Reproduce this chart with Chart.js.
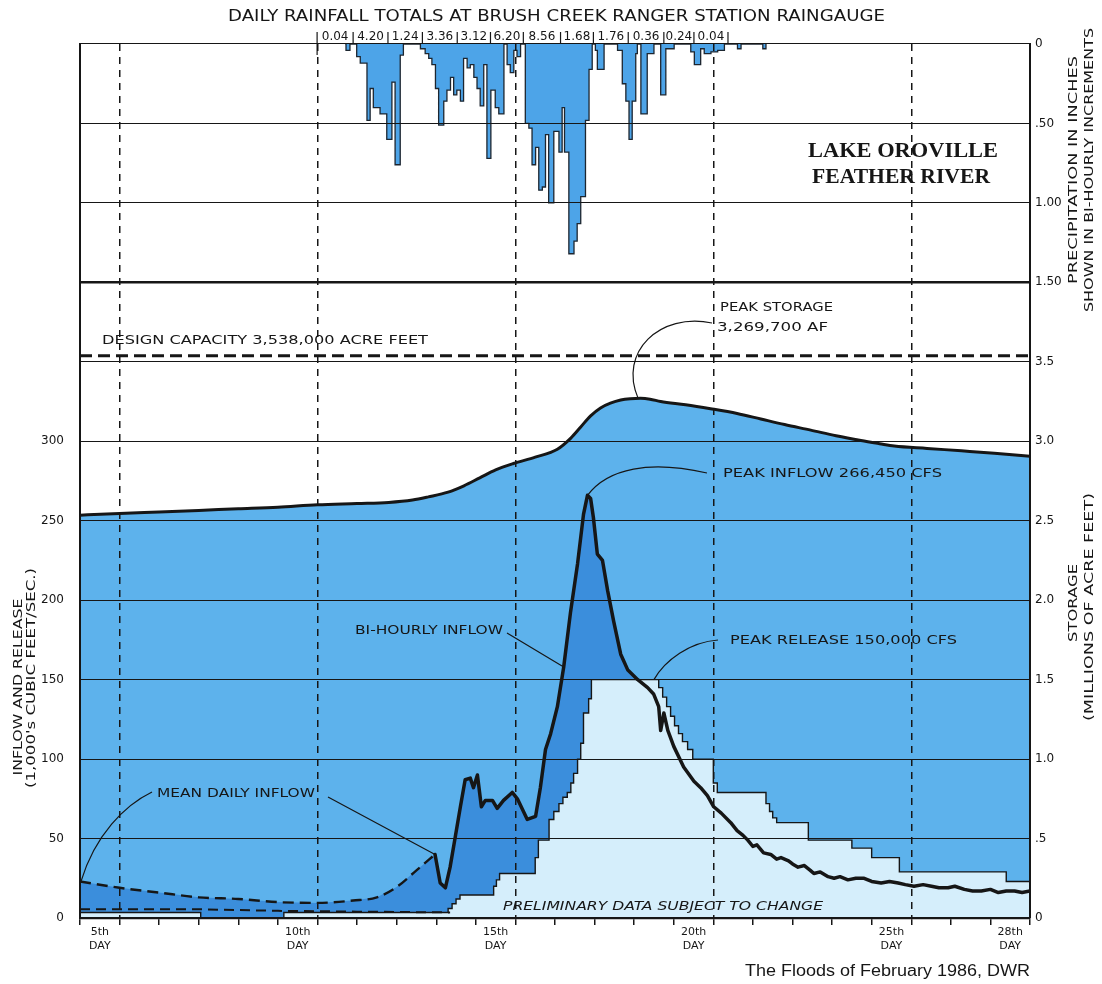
<!DOCTYPE html>
<html>
<head>
<meta charset="utf-8">
<title>Lake Oroville - Feather River, February 1986</title>
<script src="https://cdn.jsdelivr.net/npm/chart.js@4.4.1/dist/chart.umd.min.js"></script>
<style>
  html, body { margin: 0; padding: 0; background: #fff; }
  canvas { display: block; }
</style>
</head>
<body>
<canvas id="chart" width="1102" height="984"></canvas>
<script>
// ---- axis labels ----
const xLabelDays = [4.5, 9.5, 14.5, 19.5, 24.5, 27.5];
const xLabels = ['5th', '10th', '15th', '20th', '25th', '28th'];
const dashedDays = [5, 10, 15, 20, 25];
const storageTickLabels = ['0', '.5', '1.0', '1.5', '2.0', '2.5', '3.0', '3.5'];
const precipTickLabels = ['0', '.50', '1.00', '1.50'];

// daily rainfall totals (inches) and the day marks between them
const rainTotals = ['0.04', '4.20', '1.24', '3.36', '3.12', '6.20', '8.56', '1.68', '1.76', '0.36', '0.24', '0.04'];
const rainSepDays = [9.99, 10.90, 11.78, 12.65, 13.53, 14.37, 15.20, 16.14, 16.97, 17.85, 18.75, 19.51, 20.37];

const designCapacity = 3.538; // millions of acre feet

// storage, millions of acre feet [day, value]
const storage = [
  [4, 2.535], [5, 2.545], [6, 2.555], [7, 2.565], [8, 2.575], [9, 2.585], [10, 2.60],
  [11, 2.608], [11.8, 2.615], [12.4, 2.63], [12.8, 2.65], [13.3, 2.68], [13.7, 2.72],
  [14.1, 2.77], [14.5, 2.82], [14.95, 2.86], [15.5, 2.90], [16.06, 2.95], [16.4, 3.02],
  [16.65, 3.09], [16.9, 3.16], [17.15, 3.21], [17.4, 3.24], [17.66, 3.26], [17.9, 3.268],
  [18.16, 3.27], [18.4, 3.265], [18.67, 3.25], [19.3, 3.23], [19.93, 3.205], [20.6, 3.175],
  [21.2, 3.14], [21.8, 3.105], [22.46, 3.07], [23.1, 3.035], [23.73, 3.005], [24.2, 2.985],
  [24.57, 2.97], [25.4, 2.955], [26.27, 2.94], [27.1, 2.925], [28, 2.905]
];

// mean daily inflow, 1,000's cfs
const meanInflow = [
  [4, 23], [5, 19], [6, 16], [7, 13], [8, 12], [9, 10], [10, 9.5], [10.9, 11],
  [11.5, 13], [12.0, 19.5], [12.5, 30], [12.97, 40]
];

// bi-hourly inflow, 1,000's cfs
const biInflow = [
  [12.97, 40], [13.10, 22], [13.23, 19], [13.35, 32], [13.48, 51], [13.61, 70], [13.73, 87],
  [13.86, 88], [13.94, 82], [14.04, 90], [14.14, 70], [14.24, 74], [14.42, 74], [14.54, 69],
  [14.70, 74], [14.92, 79], [15.05, 75], [15.30, 62], [15.51, 64], [15.63, 82], [15.76, 106],
  [15.89, 116], [16.06, 133], [16.22, 158], [16.39, 192], [16.57, 223], [16.72, 254],
  [16.82, 266], [16.90, 264], [16.97, 252], [17.07, 229], [17.20, 225], [17.33, 206],
  [17.48, 187], [17.66, 166], [17.84, 156], [18.09, 150], [18.34, 145], [18.49, 141],
  [18.62, 133], [18.67, 118], [18.75, 129], [18.85, 118], [19.00, 108], [19.25, 95],
  [19.51, 86], [19.68, 82], [19.85, 77], [20.01, 70], [20.2, 66], [20.44, 60], [20.6, 55],
  [20.75, 52], [20.87, 49], [21.0, 45], [21.1, 46], [21.27, 41], [21.45, 40], [21.6, 37],
  [21.71, 38], [21.9, 36], [22.0, 34], [22.14, 32], [22.3, 33], [22.45, 30], [22.54, 28],
  [22.7, 29], [22.9, 26], [23.05, 25], [23.2, 26], [23.4, 24], [23.6, 25], [23.81, 25],
  [24.0, 23], [24.24, 22], [24.45, 23], [24.67, 22], [24.85, 21], [25.07, 20], [25.3, 21],
  [25.51, 20], [25.7, 19], [25.93, 19], [26.1, 20], [26.34, 18], [26.55, 17], [26.77, 17],
  [27.0, 18], [27.2, 16], [27.4, 17], [27.61, 17], [27.8, 16], [28.0, 17]
];

// release, 1,000's cfs (each value holds until the next day mark)
const release = [
  [4, 3.5], [7.05, 0], [9.15, 3.5], [13.3, 6], [13.4, 9], [13.5, 12], [13.6, 14.5],
  [14.45, 20], [14.52, 24], [14.6, 28], [15.5, 38], [15.58, 49], [15.85, 62], [15.97, 67],
  [16.1, 72], [16.2, 76], [16.31, 79], [16.4, 85], [16.47, 91], [16.57, 100], [16.65, 110],
  [16.72, 129], [16.85, 138], [16.92, 150], [18.62, 145], [18.72, 139], [18.82, 133],
  [18.92, 127], [19.02, 121], [19.12, 116], [19.22, 111], [19.35, 106], [19.48, 100],
  [20.0, 85], [20.1, 79], [21.33, 72], [21.42, 67], [21.5, 63], [21.6, 60], [22.4, 49],
  [23.5, 44], [24.0, 38], [24.7, 29], [27.4, 23], [28, 23]
];

// lower dashed line, 1,000's cfs
const lowDash = [[4, 5.5], [7, 5.5], [9, 4.5], [11, 4], [13.35, 3.5]];

// bi-hourly precipitation, inches (each value holds until the next day mark)
const precip = [
  [10.70, 0], [10.72, 0.04], [10.82, 0], [10.99, 0.08], [11.08, 0.12], [11.25, 0.48],
  [11.33, 0.28], [11.41, 0.40], [11.58, 0.44], [11.75, 0.60], [11.88, 0.24], [11.96, 0.76],
  [12.09, 0.07], [12.17, 0], [12.60, 0.03], [12.72, 0.06], [12.81, 0.09], [12.89, 0.13],
  [12.98, 0.28], [13.06, 0.51], [13.19, 0.36], [13.27, 0.29], [13.36, 0.21], [13.44, 0.32],
  [13.52, 0.29], [13.61, 0.36], [13.69, 0.09], [13.78, 0.15], [13.86, 0.13], [13.95, 0.21],
  [14.03, 0.28], [14.11, 0.39], [14.20, 0.13], [14.28, 0.72], [14.38, 0.29], [14.49, 0.40],
  [14.58, 0.44], [14.71, 0], [14.79, 0.13], [14.87, 0.18], [14.96, 0.04], [15.04, 0.08],
  [15.13, 0], [15.25, 0.50], [15.34, 0.53], [15.42, 0.76], [15.51, 0.65], [15.59, 0.92],
  [15.68, 0.90], [15.76, 0.57], [15.84, 1.00], [15.97, 0.55], [16.10, 0.68], [16.18, 0.40],
  [16.24, 0.68], [16.35, 1.32], [16.48, 1.24], [16.56, 1.13], [16.65, 0.96], [16.77, 0.48],
  [16.86, 0.16], [16.94, 0], [17.02, 0.04], [17.07, 0.16], [17.24, 0], [17.58, 0.04],
  [17.70, 0.25], [17.79, 0.36], [17.87, 0.60], [17.95, 0.36], [18.04, 0.06], [18.08, 0],
  [18.17, 0.44], [18.33, 0.06], [18.50, 0], [18.67, 0.32], [18.80, 0.03], [19.01, 0],
  [19.43, 0.05], [19.52, 0.13], [19.68, 0.03], [19.77, 0.06], [19.94, 0.05], [20.11, 0.04],
  [20.28, 0], [20.61, 0.03], [20.70, 0], [21.25, 0.03], [21.33, 0]
];

// ---- colours ----
const INK = '#161616';
const MID_BLUE = '#5db2ec';
const DARK_BLUE = '#3b8edc';
const LIGHT_BLUE = '#d5eefb';
const RAIN_BLUE = '#4da4e8';
const LETTER = '"DejaVu Sans", sans-serif';

const pts = arr => arr.map(([x, y]) => ({ x, y }));

// text squeezed or stretched to a width measured on the original
function text(ctx, str, x, y, w, font, opts = {}) {
    ctx.save();
    ctx.font = font;
    ctx.textBaseline = 'middle';
    ctx.textAlign = 'left';
    const m = ctx.measureText(str).width;
    ctx.translate(x, y);
    if (opts.rot) ctx.rotate(opts.rot);
    ctx.scale(w ? w / m : 1, 1);
    ctx.fillText(str, opts.align === 'center' ? -m / 2 : 0, 0);
    ctx.restore();
}

const notes = {
    id: 'notes',
    afterDraw(chart) {
        const { ctx, chartArea: a } = chart;
        const X = chart.scales.x, Y = chart.scales.y, S = chart.scales.yR;
        const px = d => X.getPixelForValue(d);
        const py = v => Y.getPixelForValue(v);
        ctx.save();
        ctx.fillStyle = INK;
        ctx.strokeStyle = INK;

        text(ctx, 'DAILY RAINFALL TOTALS AT BRUSH CREEK RANGER STATION RAINGAUGE', 228, 17, 657, '15px ' + LETTER);

        // daily totals strip
        ctx.lineWidth = 1.2;
        rainSepDays.forEach((d, i) => {
            ctx.beginPath();
            ctx.moveTo(px(d), 32);
            ctx.lineTo(px(d), i === 0 ? 55 : a.top);
            ctx.stroke();
        });
        rainTotals.forEach((t, i) => {
            const cx = (px(rainSepDays[i]) + px(rainSepDays[i + 1])) / 2;
            text(ctx, t, cx, 37, 0, '12px ' + LETTER, { align: 'center' });
        });

        text(ctx, 'LAKE OROVILLE', 808, 152, 190, 'bold 20px "Liberation Serif", serif');
        text(ctx, 'FEATHER RIVER', 812, 178, 178, 'bold 20px "Liberation Serif", serif');

        // axis titles
        const up = -Math.PI / 2;
        text(ctx, 'INFLOW AND RELEASE', 19, 687, 177, '13px ' + LETTER, { rot: up, align: 'center' });
        text(ctx, "(1,000's CUBIC FEET/SEC.)", 32, 678, 220, '12px ' + LETTER, { rot: up, align: 'center' });
        text(ctx, 'PRECIPITATION IN INCHES', 1074, 170, 228, '13px ' + LETTER, { rot: up, align: 'center' });
        text(ctx, 'SHOWN IN BI-HOURLY INCREMENTS', 1090, 170, 284, '12px ' + LETTER, { rot: up, align: 'center' });
        text(ctx, 'STORAGE', 1074, 603, 78, '13px ' + LETTER, { rot: up, align: 'center' });
        text(ctx, '(MILLIONS OF ACRE FEET)', 1090, 607, 228, '12px ' + LETTER, { rot: up, align: 'center' });

        // notes on the plot
        const f = '13px ' + LETTER;
        text(ctx, 'DESIGN CAPACITY 3,538,000 ACRE FEET', 102, 341, 326, f);
        text(ctx, 'PEAK STORAGE', 720, 308, 113, f);
        text(ctx, '3,269,700 AF', 717, 328, 111, f);
        text(ctx, 'PEAK INFLOW 266,450 CFS', 723, 474, 219, f);
        text(ctx, 'BI-HOURLY INFLOW', 355, 631, 148, f);
        text(ctx, 'PEAK RELEASE 150,000 CFS', 730, 641, 227, f);
        text(ctx, 'MEAN DAILY INFLOW', 157, 794, 158, f);
        text(ctx, 'PRELIMINARY DATA SUBJECT TO CHANGE', 503, 907, 320, 'italic 13px ' + LETTER);

        // leaders
        ctx.lineWidth = 1.2;
        ctx.beginPath();
        ctx.moveTo(712, 323);
        ctx.bezierCurveTo(660, 312, 618, 352, px(18.1), S.getPixelForValue(3.27));
        ctx.moveTo(707, 473);
        ctx.bezierCurveTo(650, 460, 608, 468, px(16.82), py(266));
        ctx.moveTo(507, 633);
        ctx.lineTo(px(16.22), py(158));
        ctx.moveTo(718, 640);
        ctx.bezierCurveTo(690, 642, 665, 660, px(18.5), py(150));
        ctx.moveTo(152, 792);
        ctx.bezierCurveTo(125, 805, 95, 835, px(4) + 1, py(23));
        ctx.moveTo(328, 797);
        ctx.lineTo(px(12.97), py(40));
        ctx.stroke();

        text(ctx, 'The Floods of February 1986, DWR', 745, 972, 285, '16px "Liberation Sans", Arial, sans-serif');
        ctx.restore();
    }
};

new Chart(document.getElementById('chart'), {
    type: 'line',
    data: {
        datasets: [
            {
                label: 'Storage',
                data: pts(storage),
                yAxisID: 'yR',
                borderColor: INK,
                borderWidth: 3,
                backgroundColor: MID_BLUE,
                fill: 'origin',
                cubicInterpolationMode: 'monotone',
                order: 10
            },
            {
                label: 'Inflow area',
                data: pts(meanInflow.concat(biInflow.slice(1))),
                yAxisID: 'y',
                borderWidth: 0,
                borderColor: 'transparent',
                backgroundColor: DARK_BLUE,
                fill: 'origin',
                order: 9
            },
            {
                label: 'Release',
                data: pts(release),
                yAxisID: 'y',
                stepped: true,
                borderColor: INK,
                borderWidth: 1.4,
                backgroundColor: LIGHT_BLUE,
                fill: 'origin',
                order: 8
            },
            {
                label: 'Precipitation',
                data: pts(precip),
                yAxisID: 'yP',
                stepped: true,
                borderColor: '#1d2630',
                borderWidth: 1.3,
                backgroundColor: RAIN_BLUE,
                fill: 'origin',
                order: 7
            },
            {
                label: 'Lower dashed',
                data: pts(lowDash),
                yAxisID: 'y',
                borderColor: INK,
                borderWidth: 2,
                borderDash: [10, 6],
                fill: false,
                order: 6
            },
            {
                label: 'Mean daily inflow',
                data: pts(meanInflow),
                yAxisID: 'y',
                borderColor: INK,
                borderWidth: 2.4,
                borderDash: [11, 6],
                cubicInterpolationMode: 'monotone',
                fill: false,
                order: 5
            },
            {
                label: 'Bi-hourly inflow',
                data: pts(biInflow),
                yAxisID: 'y',
                borderColor: INK,
                borderWidth: 3.5,
                borderJoinStyle: 'round',
                borderCapStyle: 'round',
                fill: false,
                order: 4
            },
            {
                label: 'Design capacity',
                data: [{ x: 4, y: designCapacity }, { x: 28, y: designCapacity }],
                yAxisID: 'yR',
                borderColor: INK,
                borderWidth: 3,
                borderDash: [12, 6],
                fill: false,
                order: 3
            }
        ]
    },
    options: {
        responsive: false,
        animation: false,
        layout: { padding: { top: 44 } },
        elements: { point: { radius: 0, hitRadius: 0 }, line: { tension: 0 } },
        plugins: { legend: { display: false }, tooltip: { enabled: false } },
        scales: {
            x: {
                type: 'linear',
                min: 4,
                max: 28,
                afterFit: s => { s.height = 66; },
                afterBuildTicks: s => {
                    const t = [];
                    for (let d = 4; d <= 28; d++) t.push({ value: d });
                    xLabelDays.forEach(d => t.push({ value: d }));
                    t.sort((p, q) => p.value - q.value);
                    s.ticks = t;
                },
                ticks: {
                    autoSkip: false,
                    maxRotation: 0,
                    minRotation: 0,
                    padding: 1,
                    color: INK,
                    font: { family: LETTER, size: 11 },
                    callback: v => {
                        const i = xLabelDays.indexOf(v);
                        return i >= 0 ? [xLabels[i], 'DAY'] : '';
                    }
                },
                grid: {
                    z: 1,
                    color: c => (c.tick && dashedDays.includes(c.tick.value)) ? INK : 'transparent',
                    lineWidth: 1.5,
                    drawTicks: true,
                    tickLength: 7,
                    tickWidth: 1.5,
                    tickColor: c => (c.tick && Number.isInteger(c.tick.value)) ? INK : 'transparent'
                },
                border: { z: 2, display: true, color: INK, width: 2.2, dash: [7, 6] }
            },
            y: {
                position: 'left',
                min: 0,
                max: 550,
                afterFit: s => { s.width = 80; },
                ticks: {
                    stepSize: 50,
                    padding: 8,
                    color: INK,
                    font: { family: LETTER, size: 12 },
                    callback: v => v <= 300 ? String(v) : ''
                },
                grid: { display: false },
                border: { z: 2, display: true, color: INK, width: 2 }
            },
            yR: {
                position: 'right',
                min: 0,
                max: 5.5,
                afterFit: s => { s.width = 72; },
                ticks: {
                    stepSize: 0.5,
                    padding: 5,
                    color: INK,
                    font: { family: LETTER, size: 12 },
                    callback: v => {
                        const k = Math.round(v * 2);
                        return k <= 7 ? storageTickLabels[k] : precipTickLabels[11 - k];
                    }
                },
                grid: {
                    z: 1,
                    color: INK,
                    lineWidth: c => (c.tick && Math.round(c.tick.value * 2) === 8) ? 2.4 : 1.1,
                    drawTicks: false
                },
                border: { z: 2, display: true, color: INK, width: 2 }
            },
            yP: {
                display: false,
                min: 0,
                max: 5.5,
                reverse: true
            }
        }
    },
    plugins: [notes]
});
</script>
</body>
</html>
